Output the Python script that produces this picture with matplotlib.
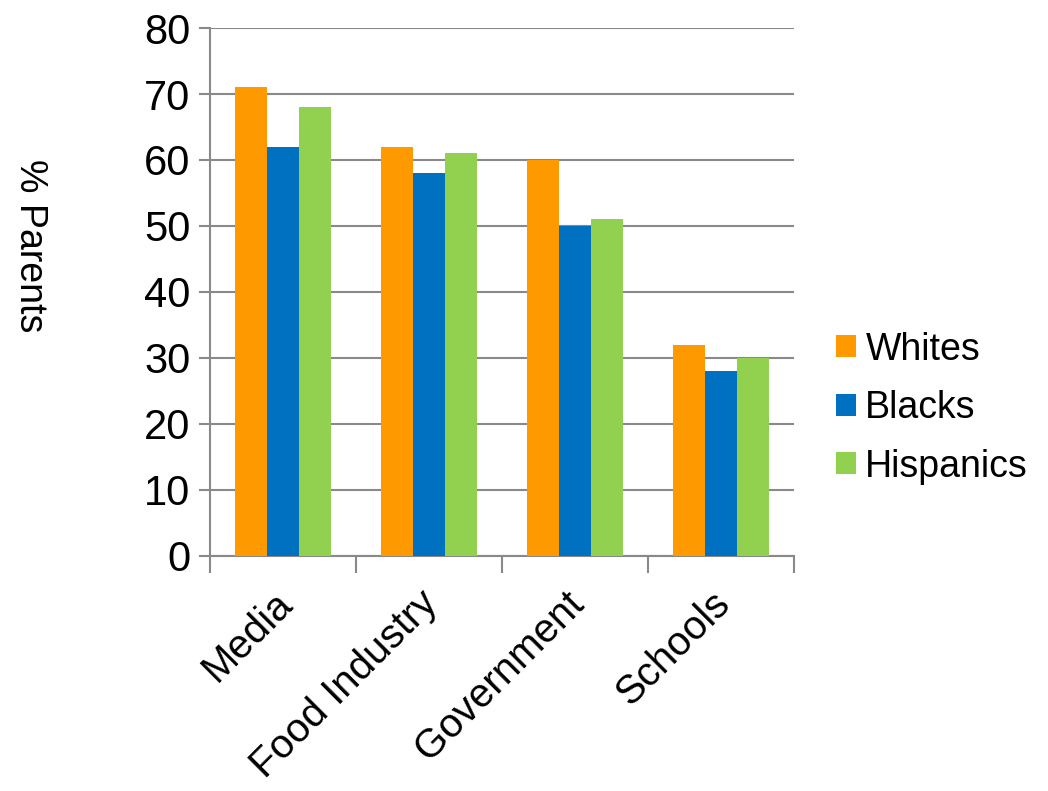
import matplotlib
matplotlib.use('Agg')
import matplotlib.pyplot as plt
import numpy as np

plt.rcParams['font.family'] = ['Liberation Sans', 'DejaVu Sans']

categories = ["Media", "Food Industry", "Government", "Schools"]
series_names = ["Whites", "Blacks", "Hispanics"]
whites = [71, 62, 60, 32]
blacks = [62, 58, 50, 28]
hispanics = [68, 61, 51, 30]
y_ticks = [0, 10, 20, 30, 40, 50, 60, 70, 80]

colors = ["#FF9900", "#0070C0", "#92D050"]
grid_color = "#898989"

fig = plt.figure(figsize=(10.48, 7.91), dpi=100)
ax = fig.add_axes([0.2004, 0.2971, 0.5572, 0.6675])

x = np.arange(len(categories))
bar_w = 0.22
for i, (vals, name) in enumerate(zip([whites, blacks, hispanics], series_names)):
    ax.bar(x + (i - 1) * bar_w, vals, width=bar_w, color=colors[i],
           label=name, zorder=3)

ax.set_xlim(-0.5, len(categories) - 0.5)
ax.set_ylim(0, 80)
ax.set_yticks(y_ticks)
ax.tick_params(axis='y', labelsize=30, length=8, width=1.5, color=grid_color, pad=6)

# category labels centred in each slot, ticks on the slot boundaries
ax.set_xticks(np.arange(len(categories) + 1) - 0.5)
ax.set_xticklabels([])
ax.tick_params(axis='x', length=12, width=1.5, color=grid_color)
for xi, label in zip(x, categories):
    ax.text(xi - 0.07, -4.3, label, rotation=45, ha='right', va='top',
            rotation_mode='anchor', fontsize=29, transform=ax.transData)

ax.yaxis.grid(True, color=grid_color, linewidth=1.5, zorder=0)
for side in ['top', 'right']:
    ax.spines[side].set_visible(False)
for side in ['left', 'bottom']:
    ax.spines[side].set_color(grid_color)
    ax.spines[side].set_linewidth(1.5)

fig.text(30 / 1048, 1 - 246 / 791, "% Parents", rotation=270, fontsize=27,
         ha='center', va='center')

ax.legend(loc='center left', bbox_to_anchor=(1.015, 0.28), frameon=False,
          fontsize=27, handlelength=0.52, handleheight=0.52, handletextpad=0.25,
          labelspacing=0.6)

plt.savefig("out.png", dpi=100)
plt.close(fig)
